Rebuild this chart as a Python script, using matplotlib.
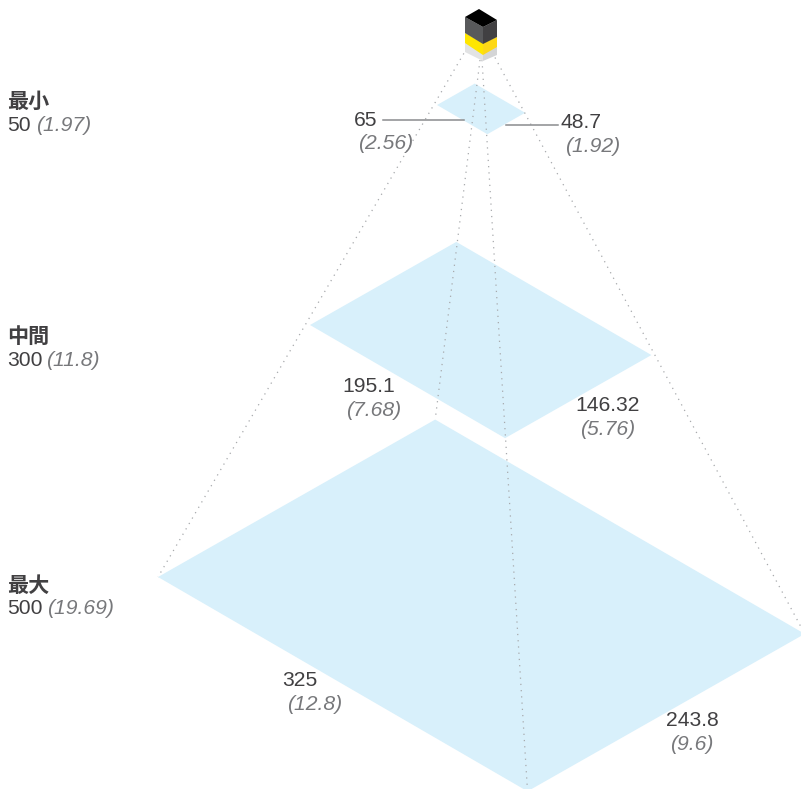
import matplotlib
matplotlib.use("Agg")
import matplotlib.pyplot as plt
from matplotlib.patches import Polygon

# Data
levels = ["最小", "中間", "最大"]
distance_mm = ["50", "300", "500"]
distance_in = ["(1.97)", "(11.8)", "(19.69)"]
width_mm = [65, 195.1, 325]
depth_mm = [48.7, 146.32, 243.8]
width_lbl = ["65", "195.1", "325"]
depth_lbl = ["48.7", "146.32", "243.8"]
width_in = ["(2.56)", "(7.68)", "(12.8)"]
depth_in = ["(1.92)", "(5.76)", "(9.6)"]

# Layout (pixel space)
left_corner = [(437, 105), (310, 325), (158, 577)]
scale = [0.775, 1.0, 1.137]
slope_down = 0.58
slope_up = 0.568
level_y = [101, 336, 585]
in_x = [36, 46, 47]
width_pos = [((366, 120), (386, 143)), ((369, 386), (374, 410)), ((300, 681), (315, 705))]
depth_pos = [((581, 122), (593, 146)), ((608, 405), (608, 429)), ((692, 721), (692, 745))]

DARK = "#414042"
GREY = "#77787b"
FILL = "#d8f0fb"
SANS = ["Liberation Sans", "DejaVu Sans"]
CJK = ["Noto Sans CJK JP", "DejaVu Sans"]
FS = 15.2

fig = plt.figure(figsize=(8.01, 7.89), dpi=100)
ax = fig.add_axes([0, 0, 1, 1])
ax.set_xlim(0, 801)
ax.set_ylim(789, 0)
ax.axis("off")

corners = []
for (lx, ly), s, w, d in zip(left_corner, scale, width_mm, depth_mm):
    wv = (w * s, w * s * slope_down)
    dv = (d * s, -d * s * slope_up)
    c = {
        "left": (lx, ly),
        "bottom": (lx + wv[0], ly + wv[1]),
        "top": (lx + dv[0], ly + dv[1]),
        "right": (lx + wv[0] + dv[0], ly + wv[1] + dv[1]),
    }
    corners.append(c)
    ax.add_patch(Polygon([c["left"], c["top"], c["right"], c["bottom"]],
                         closed=True, fc=FILL, ec="none", zorder=1, clip_on=False))

# Beam lines from the sensor to the far level's corners
apex = {"left": (467, 48), "right": (492, 52), "top": (480, 60), "bottom": (482, 60)}
for key, start in apex.items():
    end = corners[-1][key]
    ax.plot([start[0], end[0]], [start[1], end[1]], color="#a7a9ac", lw=0.9,
            ls=(0, (1, 4)), zorder=2, clip_on=False)

# Sensor
faces = [
    ([(465, 33), (483, 43), (483, 61), (465, 52)], "#e2e3e4"),
    ([(483, 43), (497, 37), (497, 55), (483, 61)], "#d4d5d6"),
    ([(465, 33), (483, 43), (483, 55), (465, 43)], "#ffe600"),
    ([(483, 43), (497, 37), (497, 47), (483, 55)], "#fdd817"),
    ([(465, 17), (483, 27), (483, 44), (465, 33)], "#58595b"),
    ([(483, 27), (497, 20), (497, 37), (483, 44)], "#414042"),
    ([(479, 9), (497, 20), (483, 27), (465, 17)], "#000000"),
]
for pts, col in faces:
    ax.add_patch(Polygon(pts, closed=True, fc=col, ec="none", zorder=3))

# Leader lines
ax.plot([383, 464], [120, 120], color="#8a8c8e", lw=1.1, zorder=4)
ax.plot([506, 558], [124.5, 124.5], color="#8a8c8e", lw=1.1, zorder=4)

# Left column
for name, y, mm, inch, ix in zip(levels, level_y, distance_mm, distance_in, in_x):
    ax.text(7.5, y, name, family=CJK, weight="bold", fontsize=FS, color=DARK,
            ha="left", va="center")
    ax.text(7.5, y + 24, mm, family=SANS, fontsize=FS, color=DARK, ha="left", va="center")
    ax.text(ix, y + 24, inch, family=SANS, style="italic", fontsize=FS, color=GREY,
            ha="left", va="center")

# Dimension labels
for lbls, inches, poss in [(width_lbl, width_in, width_pos), (depth_lbl, depth_in, depth_pos)]:
    for l, i, (p1, p2) in zip(lbls, inches, poss):
        ax.text(p1[0], p1[1], l, family=SANS, fontsize=FS, color=DARK, ha="center", va="center")
        ax.text(p2[0], p2[1], i, family=SANS, style="italic", fontsize=FS, color=GREY,
                ha="center", va="center")

fig.savefig("out.png", dpi=100)
